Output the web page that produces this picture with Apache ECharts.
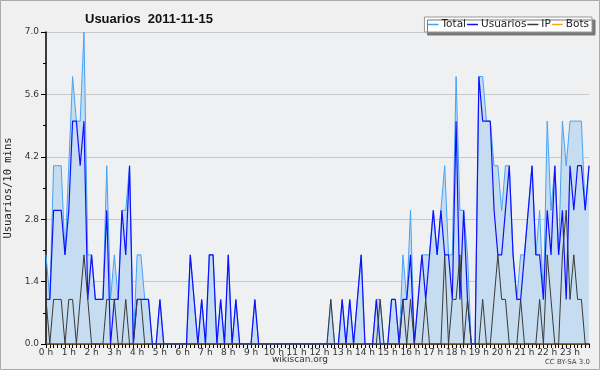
<!DOCTYPE html>
<html>
<head>
<meta charset="utf-8">
<script src="https://cdn.jsdelivr.net/npm/echarts@6/dist/echarts.min.js"></script>
<style>
html, body { margin: 0; padding: 0; background: #f0f0f0; }
#main { width: 600px; height: 370px; }
</style>
</head>
<body>
<div id="main"></div>
<script>
// valores cada 10 minutos, 0h00 -> 23h50
var hours = [0,1,2,3,4,5,6,7,8,9,10,11,12,13,14,15,16,17,18,19,20,21,22,23];
var minutes = ['00','10','20','30','40','50'];
var yTicks = [0, 1.4, 2.8, 4.2, 5.6, 7.0];

var total = [
  2,1,4,4,4,2,4,6,5,5, 7,2,2,1,1,1,4,1,2,1, 3,3,4,0,2,2,1,1,0,0,
  1,0,0,0,0,0,0,0,2,1, 0,1,0,2,2,0,1,0,2,0, 1,0,0,0,0,1,0,0,0,0,
  0,0,0,0,0,0,0,0,0,0, 0,0,0,0,0,1,0,0,1,0, 1,0,1,2,0,0,0,1,1,0,
  0,1,1,0,2,1,3,0,1,2, 2,2,3,2,3,4,2,2,6,3, 3,2,0,0,6,6,5,5,4,4,
  3,4,4,2,1,2,2,3,4,2, 3,1,5,3,4,2,5,4,5,5, 5,5,3,4
];
var usuarios = [
  1,1,3,3,3,2,3,5,5,4, 5,1,2,1,1,1,3,0,1,1, 3,2,4,0,1,1,1,1,0,0,
  1,0,0,0,0,0,0,0,2,1, 0,1,0,2,2,0,1,0,2,0, 1,0,0,0,0,1,0,0,0,0,
  0,0,0,0,0,0,0,0,0,0, 0,0,0,0,0,0,0,0,1,0, 1,0,1,2,0,0,0,1,0,0,
  0,1,1,0,1,1,2,0,1,2, 1,2,3,2,3,2,2,1,5,1, 3,1,0,0,6,5,5,5,3,2,
  2,3,4,2,1,1,2,3,4,2, 2,1,3,2,4,2,3,1,4,3, 4,4,3,4
];
var ip = [
  1,0,1,1,1,0,1,1,0,1, 2,1,0,0,0,0,1,1,1,0, 0,1,0,0,1,1,0,0,0,0,
  0,0,0,0,0,0,0,0,0,0, 0,0,0,0,0,0,0,0,0,0, 0,0,0,0,0,0,0,0,0,0,
  0,0,0,0,0,0,0,0,0,0, 0,0,0,0,0,1,0,0,0,0, 0,0,0,0,0,0,0,0,1,0,
  0,0,0,0,1,0,1,0,0,0, 1,0,0,0,0,2,0,1,1,2, 0,1,0,0,0,1,0,0,1,2,
  1,1,0,0,0,1,0,0,0,0, 1,0,2,1,0,0,2,3,1,2, 1,1,0,0
];
var bots = [
  0,0,0,0,0,0,0,0,0,0, 0,0,0,0,0,0,0,0,0,0, 0,0,0,0,0,0,0,0,0,0,
  0,0,0,0,0,0,0,0,0,0, 0,0,0,0,0,0,0,0,0,0, 0,0,0,0,0,0,0,0,0,0,
  0,0,0,0,0,0,0,0,0,0, 0,0,0,0,0,0,0,0,0,0, 0,0,0,0,0,0,0,0,0,0,
  0,0,0,0,0,0,0,0,0,0, 0,0,0,0,0,0,0,0,0,0, 0,0,0,0,0,0,0,0,0,0,
  0,0,0,0,0,0,0,0,0,0, 0,0,0,0,0,0,0,0,0,0, 0,0,0,0
];

var categories = [];
hours.forEach(function (h) {
  minutes.forEach(function (m) { categories.push(h + ':' + m); });
});

var font = 'DejaVu Sans';
var myChart = echarts.init(document.getElementById('main'));

option = {
    backgroundColor: '#f0f0f0',
    animation: false,
    title: {
        text: 'Usuarios  2011-11-15',
        left: 80,
        top: 8,
        textStyle: {
            fontFamily: 'Liberation Sans',
            fontWeight: 'bold',
            fontSize: 13,
            color: '#111'
        }
    },
    legend: {
        data: ['Total', 'Usuarios', 'IP', 'Bots'],
        right: 8,
        top: 17,
        icon: 'rect',
        itemWidth: 11,
        itemHeight: 1.5,
        itemGap: 1,
        padding: [2, 3, 2, 3],
        backgroundColor: '#ffffff',
        borderColor: '#999',
        borderWidth: 1,
        shadowColor: '#777',
        shadowOffsetX: 3,
        shadowOffsetY: 3,
        shadowBlur: 0,
        textStyle: {
            fontFamily: font,
            fontSize: 10.5,
            color: '#222',
            padding: [0, 0, 0, -2]
        }
    },
    grid: {
        left: 46,
        right: 11,
        top: 32,
        bottom: 26,
        outerBoundsMode: 'none',
        containLabel: false,
        show: true,
        backgroundColor: '#eef0f2',
        borderWidth: 0
    },
    xAxis: {
        type: 'category',
        boundaryGap: false,
        data: categories,
        z: 3,
        axisLine: { lineStyle: { color: '#000', width: 1.5 } },
        axisTick: { interval: 0, length: 4, lineStyle: { color: '#000' } },
        axisLabel: {
            interval: 5,
            margin: 4,
            fontFamily: font,
            fontSize: 9,
            color: '#333',
            formatter: function (v) { return v.split(':')[0] + ' h'; }
        },
        splitLine: { show: false }
    },
    yAxis: {
        type: 'value',
        min: yTicks[0],
        max: yTicks[yTicks.length - 1],
        interval: 1.4,
        name: 'Usuarios/10 mins',
        nameLocation: 'middle',
        nameGap: 31,
        nameTextStyle: {
            fontFamily: 'DejaVu Sans Mono',
            fontSize: 10.5,
            color: '#222'
        },
        z: 3,
        axisLine: { show: true, lineStyle: { color: '#000', width: 1.5 } },
        axisTick: { show: true, length: 5, lineStyle: { color: '#000' } },
        minorTick: { show: true, splitNumber: 2, length: 3, lineStyle: { color: '#000' } },
        axisLabel: {
            margin: 7,
            fontFamily: font,
            fontSize: 9,
            color: '#333',
            formatter: function (v) { return v.toFixed(1); }
        },
        splitLine: { lineStyle: { color: '#c8c8c8', width: 1 } }
    },
    graphic: [
        {
            type: 'rect',
            shape: { x: 0.5, y: 0.5, width: 599, height: 369 },
            style: { fill: 'none', stroke: '#aaa', lineWidth: 1 },
            silent: true
        },
        {
            type: 'text',
            left: 'center',
            top: 355,
            style: { text: 'wikiscan.org', fontFamily: font, fontSize: 9, fill: '#333' }
        },
        {
            type: 'text',
            right: 10,
            top: 359,
            style: { text: 'CC BY-SA 3.0', fontFamily: font, fontSize: 7, fill: '#444' }
        }
    ],
    series: [{
        name: 'Bots',
        type: 'line',
        showSymbol: false,
        color: '#ffa31a',
        lineStyle: { width: 1 },
        data: bots
    }, {
        name: 'Total',
        type: 'line',
        showSymbol: false,
        color: '#45a3f5',
        lineStyle: { width: 1 },
        areaStyle: { color: '#c6dcf0', opacity: 1 },
        data: total
    }, {
        name: 'Usuarios',
        type: 'line',
        showSymbol: false,
        color: '#1010ff',
        lineStyle: { width: 1.2 },
        data: usuarios
    }, {
        name: 'IP',
        type: 'line',
        showSymbol: false,
        color: '#3a3a3a',
        lineStyle: { width: 1 },
        data: ip
    }]
};

myChart.setOption(option);
window.onresize = myChart.resize;
</script>
</body>
</html>
